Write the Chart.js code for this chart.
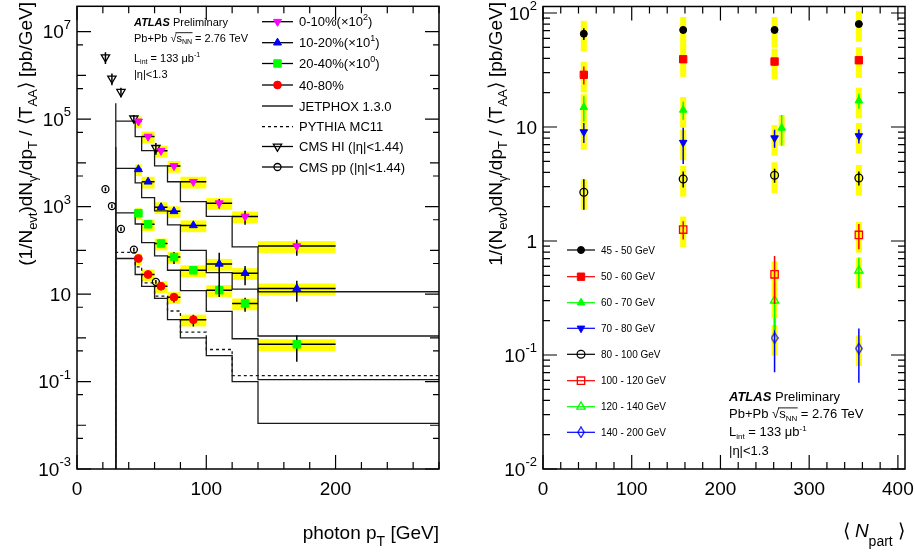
<!DOCTYPE html>
<html>
<head>
<meta charset="utf-8">
<script src="https://cdn.jsdelivr.net/npm/chart.js@4.4.1/dist/chart.umd.min.js"></script>
<style>
  body { margin: 0; background: #fff; }
  canvas { position: absolute; left: 0; top: 0; }
</style>
</head>
<body>
<canvas id="spectra" width="915" height="553"></canvas>
<canvas id="npart" width="915" height="553"></canvas>
<script>
// ---- left panel: photon pT spectra per centrality ----
const ptEdges = [45, 50, 60, 70, 80, 100, 120, 140, 200];
const ptCenters = [47.5, 55, 65, 75, 90, 110, 130, 170];
const spec0_10 = [8.9e4, 4.0e4, 1.9e4, 8.5e3, 3.7e3, 1.2e3, 595, 125];
const stat0_10 = [0.04, 0.04, 0.05, 0.06, 0.07, 0.25, 0.35, 0.4];
const spec10_20 = [7.1e3, 3.7e3, 966, 780, 372, 49, 30, 13.4];
const stat10_20 = [0.05, 0.05, 0.15, 0.1, 0.08, 0.8, 0.47, 0.5];
const spec20_40 = [707, 393, 143, 70, 35, 12.3, 6.1, 0.71];
const stat20_40 = [0.06, 0.06, 0.1, 0.3, 0.1, 0.3, 0.35, 0.6];
const spec40_80 = [65, 28, 15.1, 8.5, 2.6];
const stat40_80 = [0.08, 0.08, 0.12, 0.25, 0.3];
const sysSpec = 0.3;

const theoryEdges = [30, 45, 50, 60, 70, 80, 100, 120, 140, 200, 280];
const jetphox0_10 = [2.3e5, 9.0e4, 4.0e4, 1.9e4, 8.5e3, 3.7e3, 1.3e3, 600, 120, 11.3];
const jetphox10_20 = [2.3e4, 7.5e3, 3.5e3, 1.6e3, 800, 380, 100, 31, 13, 1.1];
const jetphox20_40 = [2.3e3, 720, 400, 150, 75, 35, 12, 4.0, 0.95, 0.11];
const jetphox40_80 = [228, 65, 28, 15, 8.0, 2.6, 1.0, 0.39, 0.10, 0.011];
const pythiaEdges = [30, 45, 50, 60, 70, 80, 100, 120, 140, 280];
const pythia = [318, 90, 42, 18, 9, 4.1, 1.35, 0.54, 0.136];

const cmsPt = [22, 27, 34, 44, 61];
const cmsHI = [2.6e6, 8.5e5, 4.2e5, 1.04e5, 2.2e4];
const cmsHIStat = [0.3, 0.3, 0.25, 0.2, 0.3];
const cmsPP = [2.5e3, 1.03e3, 308, 104, 19];
const cmsPPStat = [0.1, 0.1, 0.1, 0.1, 0.1];

// ---- right panel: yield vs Npart per pT bin ----
const npart = [46, 158, 261, 356];
const npartShifted = [46, 158, 269, 356];
const y45_50 = [65.7, 71, 71, 80];
const s45_50 = [0.12, 0.08, 0.07, 0.06];
const y50_60 = [28.7, 39.3, 37.5, 38.5];
const s50_60 = [0.18, 0.07, 0.08, 0.07];
const y60_70 = [14.9, 14.1, 9.8, 17];
const s60_70 = [0.25, 0.18, 0.3, 0.15];
const y70_80 = [9.05, 7.3, 8.0, 8.35];
const s70_80 = [0.2, 0.35, 0.18, 0.14];
const y80_100 = [2.68, 3.5, 3.77, 3.57];
const s80_100 = [0.3, 0.16, 0.14, 0.14];
const y100_120 = [null, 1.26, 0.51, 1.13];
const s100_120 = [null, 0.18, 0.45, 0.25];
const y120_140 = [null, null, 0.30, 0.55];
const s120_140 = [null, null, 0.45, 0.3];
const y140_200 = [null, null, 0.141, 0.114];
const s140_200 = [null, null, 0.5, 0.5];
const sysNpart = 0.3;

const FONT = '"Liberation Sans", Arial, Helvetica, sans-serif';
const MAGENTA = '#ff00ff', BLUE = '#0000ff', GREEN = '#00ff00', RED = '#ff0000', YELLOW = '#ffff00';

function diamondImage(color) {
  const c = document.createElement('canvas');
  c.width = 8; c.height = 12;
  const g = c.getContext('2d');
  g.strokeStyle = color; g.lineWidth = 1.2;
  g.beginPath();
  g.moveTo(4, 0.8); g.lineTo(7.2, 6); g.lineTo(4, 11.2); g.lineTo(0.8, 6); g.closePath();
  g.stroke();
  return c;
}

const mk = {
  c0_10: { pointStyle: 'triangle', rotation: 180, radius: 4.6, color: MAGENTA },
  c10_20: { pointStyle: 'triangle', rotation: 0, radius: 4.6, color: BLUE },
  c20_40: { pointStyle: 'rect', radius: 5.3, color: GREEN },
  c40_80: { pointStyle: 'circle', radius: 3.9, color: RED },
  cmsHI: { pointStyle: 'triangle', rotation: 180, radius: 4.8, color: '#000', open: true },
  cmsPP: { pointStyle: 'circle', radius: 3.5, color: '#000', open: true },
  n45: { pointStyle: 'circle', radius: 3.5, color: '#000' },
  n50: { pointStyle: 'rect', radius: 5.2, color: RED },
  n60: { pointStyle: 'triangle', rotation: 0, radius: 4.4, color: GREEN },
  n70: { pointStyle: 'triangle', rotation: 180, radius: 4.4, color: BLUE },
  n80: { pointStyle: 'circle', radius: 3.9, color: '#000', open: true },
  n100: { pointStyle: 'rect', radius: 5.2, color: RED, open: true },
  n120: { pointStyle: 'triangle', rotation: 0, radius: 4.8, color: GREEN, open: true },
  n140: { pointStyle: diamondImage(BLUE), radius: 4, color: BLUE, open: true }
};

function points(xs, ys, stat, lo, hi) {
  const out = [];
  ys.forEach((y, i) => {
    if (y == null) return;
    out.push({ x: xs[i], y, stat: stat[i], lo: lo ? lo[i] : null, hi: hi ? hi[i] : null });
  });
  return out;
}

function markers(label, data, st, err) {
  return {
    label, data, type: 'scatter', order: 0,
    pointStyle: st.pointStyle, pointRotation: st.rotation || 0, pointRadius: st.radius,
    backgroundColor: st.open ? 'rgba(0,0,0,0)' : st.color,
    borderColor: st.color, borderWidth: st.open ? 1.3 : 1,
    errColor: err.color, sys: err.sys, boxHalf: err.boxHalf
  };
}

function stepData(edges, vals) {
  const pts = [{ x: edges[0], y: 1e-3 }];
  vals.forEach((v, i) => pts.push({ x: edges[i], y: v }));
  pts.push({ x: edges[edges.length - 1], y: vals[vals.length - 1] });
  return pts;
}

function histo(label, edges, vals, dash) {
  return {
    label, type: 'line', order: 5, data: stepData(edges, vals), stepped: 'after',
    borderColor: '#1a1a1a', borderWidth: 1.3, borderDash: dash ? [3, 3] : [],
    pointRadius: 0, fill: false
  };
}

function clipTo(ctx, a) {
  ctx.beginPath();
  ctx.rect(a.left, a.top, a.right - a.left, a.bottom - a.top);
  ctx.clip();
}

function rich(ctx, parts, x, y, align) {
  const fonts = parts.map(p => (p[3] || '') + ' ' + p[1] + 'px ' + FONT);
  const widths = parts.map((p, i) => { ctx.font = fonts[i]; return ctx.measureText(p[0]).width; });
  const total = widths.reduce((s, w) => s + w, 0);
  let cx = align === 'right' ? x - total : align === 'center' ? x - total / 2 : x;
  const spans = [];
  ctx.textAlign = 'left';
  ctx.textBaseline = 'alphabetic';
  parts.forEach((p, i) => {
    ctx.font = fonts[i];
    ctx.fillText(p[0], cx, y + (p[2] || 0));
    spans.push([cx, cx + widths[i]]);
    cx += widths[i];
  });
  return spans;
}

function drawMarker(ctx, st, x, y) {
  ctx.save();
  ctx.fillStyle = st.open ? 'rgba(0,0,0,0)' : st.color;
  ctx.strokeStyle = st.color;
  ctx.lineWidth = st.open ? 1.3 : 1;
  const h = Chart.helpers;
  if (h && h.drawPoint) {
    h.drawPoint(ctx, { pointStyle: st.pointStyle, rotation: st.rotation || 0, radius: st.radius, borderWidth: ctx.lineWidth }, x, y);
  } else {
    ctx.beginPath(); ctx.arc(x, y, st.radius, 0, Math.PI * 2); ctx.fill(); ctx.stroke();
  }
  ctx.restore();
}

const errorBars = {
  id: 'errorBars',
  beforeDatasetsDraw(chart) {
    const { ctx, chartArea: a } = chart;
    const xs = chart.scales.x, ys = chart.scales.y;
    ctx.save();
    clipTo(ctx, a);
    ctx.fillStyle = YELLOW;
    chart.data.datasets.forEach(ds => {
      if (!ds.sys) return;
      ds.data.forEach(p => {
        const x0 = xs.getPixelForValue(p.lo != null ? p.lo : p.x - ds.boxHalf);
        const x1 = xs.getPixelForValue(p.hi != null ? p.hi : p.x + ds.boxHalf);
        const y0 = ys.getPixelForValue(p.y * (1 + ds.sys));
        const y1 = ys.getPixelForValue(p.y * (1 - ds.sys));
        ctx.fillRect(x0, y0, x1 - x0, y1 - y0);
      });
    });
    ctx.restore();
  },
  beforeDatasetDraw(chart, args) {
    const ds = chart.data.datasets[args.index];
    if (!ds.errColor) return;
    const { ctx, chartArea: a } = chart;
    const xs = chart.scales.x, ys = chart.scales.y;
    ctx.save();
    clipTo(ctx, a);
    ctx.strokeStyle = ds.errColor;
    ctx.lineWidth = 1.5;
    ds.data.forEach(p => {
      const px = xs.getPixelForValue(p.x), py = ys.getPixelForValue(p.y);
      ctx.beginPath();
      ctx.moveTo(px, ys.getPixelForValue(p.y * (1 + p.stat)));
      ctx.lineTo(px, ys.getPixelForValue(p.y * (1 - p.stat)));
      if (p.lo != null) {
        ctx.moveTo(xs.getPixelForValue(p.lo), py);
        ctx.lineTo(xs.getPixelForValue(p.hi), py);
      }
      ctx.stroke();
    });
    ctx.restore();
  }
};

function drawFrame(chart, xTicks, yTicks) {
  const { ctx, chartArea: a } = chart;
  const xs = chart.scales.x, ys = chart.scales.y;
  ctx.save();
  ctx.strokeStyle = '#000';
  ctx.lineWidth = 1.2;
  ctx.beginPath();
  xTicks.forEach(t => {
    const px = xs.getPixelForValue(t.v);
    ctx.moveTo(px, a.bottom); ctx.lineTo(px, a.bottom - t.len);
    ctx.moveTo(px, a.top); ctx.lineTo(px, a.top + t.len);
  });
  yTicks.forEach(t => {
    const py = ys.getPixelForValue(t.v);
    ctx.moveTo(a.left, py); ctx.lineTo(a.left + t.len, py);
    ctx.moveTo(a.right, py); ctx.lineTo(a.right - t.len, py);
  });
  ctx.stroke();
  ctx.lineWidth = 1.5;
  ctx.strokeRect(a.left, a.top, a.right - a.left, a.bottom - a.top);
  ctx.restore();
}

function powLabel(ctx, e, xr, y) {
  let parts;
  if (e === 0) parts = [['1', 19]];
  else if (e === 1) parts = [['10', 19]];
  else parts = [['10', 19], [String(e), 13, -9.5]];
  rich(ctx, parts, xr, y + 6.8, 'right');
}

function rotatedTitle(ctx, parts, xBase, yEnd) {
  ctx.save();
  ctx.translate(xBase, yEnd);
  ctx.rotate(-Math.PI / 2);
  rich(ctx, parts, 0, 0, 'right');
  ctx.restore();
}

function sqrtLine(ctx, x, y, size, subSize) {
  const spans = rich(ctx, [['Pb+Pb ', size], ['\u221a', size], ['s', size], ['NN', subSize, size * 0.22], [' = 2.76 TeV', size]], x, y, 'left');
  ctx.save();
  ctx.strokeStyle = '#000';
  ctx.lineWidth = 0.9;
  ctx.beginPath();
  ctx.moveTo(spans[1][1] - 1, y - size * 0.8);
  ctx.lineTo(spans[3][1] + 0.5, y - size * 0.8);
  ctx.stroke();
  ctx.restore();
}

function atlasBlock(ctx, x, baselines, size) {
  const sub = Math.round(size * 0.65);
  ctx.fillStyle = '#000';
  rich(ctx, [['ATLAS', size, 0, 'bold italic'], [' Preliminary', size]], x, baselines[0], 'left');
  sqrtLine(ctx, x, baselines[1], size, sub);
  rich(ctx, [['L', size], ['int', sub, size * 0.22], [' = 133 \u03bcb', size], ['-1', sub, -size * 0.4]], x, baselines[2], 'left');
  rich(ctx, [['|\u03b7|<1.3', size]], x, baselines[3], 'left');
}

// ---- left decorations ----
const spectraLegend = [
  { text: [['0-10%(\u00d710', 13], ['2', 9, -6], [')', 13]], st: mk.c0_10 },
  { text: [['10-20%(\u00d710', 13], ['1', 9, -6], [')', 13]], st: mk.c10_20 },
  { text: [['20-40%(\u00d710', 13], ['0', 9, -6], [')', 13]], st: mk.c20_40 },
  { text: [['40-80%', 13]], st: mk.c40_80 },
  { text: [['JETPHOX 1.3.0', 13]], st: null },
  { text: [['PYTHIA MC11', 13]], st: null, dash: true },
  { text: [['CMS HI (|\u03b7|<1.44)', 13]], st: mk.cmsHI },
  { text: [['CMS pp (|\u03b7|<1.44)', 13]], st: mk.cmsPP }
];
const spectraLegendY = [21.7, 42.7, 63.5, 85, 106, 126.7, 146.5, 167];

const spectraDecor = {
  id: 'spectraDecor',
  afterDraw(chart) {
    const ctx = chart.ctx;
    const xt = [], yt = [];
    for (let v = 0; v <= 280; v += 20) xt.push({ v, len: v % 100 === 0 ? 14 : 7 });
    for (let e = -3; e <= 7; e++) {
      yt.push({ v: Math.pow(10, e), len: Math.abs(e) % 2 === 1 ? 14 : 9 });
      if (e < 7) yt.push({ v: 5 * Math.pow(10, e), len: 6 });
    }
    drawFrame(chart, xt, yt);
    const xs = chart.scales.x, ys = chart.scales.y;
    ctx.save();
    ctx.fillStyle = '#000';
    ctx.font = '19px ' + FONT;
    ctx.textAlign = 'center'; ctx.textBaseline = 'middle';
    [0, 100, 200].forEach(v => ctx.fillText(String(v), xs.getPixelForValue(v), 490));
    [7, 5, 3, 1, -1, -3].forEach(e => powLabel(ctx, e, 71, ys.getPixelForValue(Math.pow(10, e))));
    rich(ctx, [['photon p', 19], ['T', 14, 7], [' [GeV]', 19]], 439, 539, 'right');
    rotatedTitle(ctx, [['(1/N', 19], ['evt', 13, 5], [')dN', 19], ['\u03b3', 13, 5], ['/dp', 19], ['T', 13, 5],
      [' / \u27e8T', 19], ['AA', 13, 5], ['\u27e9 [pb/GeV]', 19]], 31.7, 2);
    atlasBlock(ctx, 134, [26, 41.5, 61.5, 78], 11);
    spectraLegend.forEach((item, i) => {
      const y = spectraLegendY[i];
      ctx.save();
      ctx.strokeStyle = '#000'; ctx.lineWidth = 1.3;
      ctx.setLineDash(item.dash ? [3, 3] : []);
      ctx.beginPath(); ctx.moveTo(262, y); ctx.lineTo(293, y); ctx.stroke();
      ctx.restore();
      if (item.st) drawMarker(ctx, item.st, 277.5, y);
      ctx.fillStyle = '#000';
      rich(ctx, item.text, 299, y + 4.7, 'left');
    });
    ctx.restore();
  }
};

const binLo = ptEdges.slice(0, -1), binHi = ptEdges.slice(1);
const specErr = { color: '#000', sys: sysSpec };

new Chart(document.getElementById('spectra'), {
  type: 'scatter',
  data: {
    datasets: [
      markers('0-10%', points(ptCenters, spec0_10, stat0_10, binLo, binHi), mk.c0_10, specErr),
      markers('10-20%', points(ptCenters, spec10_20, stat10_20, binLo, binHi), mk.c10_20, specErr),
      markers('20-40%', points(ptCenters, spec20_40, stat20_40, binLo, binHi), mk.c20_40, specErr),
      markers('40-80%', points(ptCenters, spec40_80, stat40_80, binLo, binHi), mk.c40_80, specErr),
      markers('CMS HI', points(cmsPt, cmsHI, cmsHIStat), mk.cmsHI, { color: '#000' }),
      markers('CMS pp', points(cmsPt, cmsPP, cmsPPStat), mk.cmsPP, { color: '#000' }),
      histo('JETPHOX 0-10%', theoryEdges, jetphox0_10),
      histo('JETPHOX 10-20%', theoryEdges, jetphox10_20),
      histo('JETPHOX 20-40%', theoryEdges, jetphox20_40),
      histo('JETPHOX 40-80%', theoryEdges, jetphox40_80),
      histo('PYTHIA MC11', pythiaEdges, pythia, true)
    ]
  },
  options: {
    responsive: false, animation: false, events: [],
    layout: { padding: { left: 77, right: 476, top: 1, bottom: 84 } },
    scales: {
      x: { type: 'linear', min: 0, max: 280, display: false },
      y: { type: 'logarithmic', min: 1e-3, max: 3.8e7, display: false }
    },
    plugins: { legend: { display: false }, tooltip: { enabled: false } }
  },
  plugins: [errorBars, spectraDecor]
});

// ---- right decorations ----
const npartLegend = [
  ['45 - 50 GeV', mk.n45, '#000'], ['50 - 60 GeV', mk.n50, RED], ['60 - 70 GeV', mk.n60, GREEN],
  ['70 - 80 GeV', mk.n70, BLUE], ['80 - 100 GeV', mk.n80, '#000'], ['100 - 120 GeV', mk.n100, RED],
  ['120 - 140 GeV', mk.n120, GREEN], ['140 - 200 GeV', mk.n140, BLUE]
];
const npartLegendY = [250, 276.7, 302.7, 328.3, 354.3, 380.7, 406.7, 432.3];

const npartDecor = {
  id: 'npartDecor',
  afterDraw(chart) {
    const ctx = chart.ctx;
    const xt = [], yt = [];
    for (let v = 0; v <= 400; v += 20) xt.push({ v, len: v % 100 === 0 ? 14 : 7 });
    for (let e = -2; e <= 2; e++) {
      yt.push({ v: Math.pow(10, e), len: 14 });
      if (e < 2) for (let m = 2; m <= 9; m++) yt.push({ v: m * Math.pow(10, e), len: 7 });
    }
    drawFrame(chart, xt, yt);
    const xs = chart.scales.x, ys = chart.scales.y;
    ctx.save();
    ctx.fillStyle = '#000';
    ctx.font = '19px ' + FONT;
    ctx.textAlign = 'center'; ctx.textBaseline = 'middle';
    [0, 100, 200, 300, 400].forEach(v => ctx.fillText(String(v), xs.getPixelForValue(v), 490));
    [2, 1, 0, -1, -2].forEach(e => powLabel(ctx, e, 537, ys.getPixelForValue(Math.pow(10, e))));
    rich(ctx, [['\u27e8 ', 19], ['N', 19, 0, 'italic'], ['part', 14, 9], [' \u27e9', 19]], 905, 537, 'right');
    rotatedTitle(ctx, [['1/(N', 19], ['evt', 13, 5], [')dN', 19], ['\u03b3', 13, 5], ['/dp', 19], ['T', 13, 5],
      [' / \u27e8T', 19], ['AA', 13, 5], ['\u27e9 [pb/GeV]', 19]], 501.7, 2);
    atlasBlock(ctx, 729, [400.7, 418.3, 436, 455], 13);
    npartLegend.forEach((item, i) => {
      const y = npartLegendY[i];
      ctx.save();
      ctx.strokeStyle = item[2]; ctx.lineWidth = 1.2;
      ctx.beginPath(); ctx.moveTo(567, y); ctx.lineTo(595, y); ctx.stroke();
      ctx.restore();
      drawMarker(ctx, item[1], 581, y);
      ctx.fillStyle = '#000';
      rich(ctx, [[item[0], 10]], 601, y + 3.6, 'left');
    });
    ctx.restore();
  }
};

const boxHalf = 3.4;
new Chart(document.getElementById('npart'), {
  type: 'scatter',
  data: {
    datasets: [
      markers('45 - 50 GeV', points(npart, y45_50, s45_50), mk.n45, { color: '#000', sys: sysNpart, boxHalf }),
      markers('50 - 60 GeV', points(npart, y50_60, s50_60), mk.n50, { color: RED, sys: sysNpart, boxHalf }),
      markers('60 - 70 GeV', points(npartShifted, y60_70, s60_70), mk.n60, { color: GREEN, sys: sysNpart, boxHalf }),
      markers('70 - 80 GeV', points(npart, y70_80, s70_80), mk.n70, { color: BLUE, sys: sysNpart, boxHalf }),
      markers('80 - 100 GeV', points(npart, y80_100, s80_100), mk.n80, { color: '#000', sys: sysNpart, boxHalf }),
      markers('100 - 120 GeV', points(npart, y100_120, s100_120), mk.n100, { color: RED, sys: sysNpart, boxHalf }),
      markers('120 - 140 GeV', points(npart, y120_140, s120_140), mk.n120, { color: GREEN, sys: sysNpart, boxHalf }),
      markers('140 - 200 GeV', points(npart, y140_200, s140_200), mk.n140, { color: BLUE, sys: sysNpart, boxHalf })
    ]
  },
  options: {
    responsive: false, animation: false, events: [],
    layout: { padding: { left: 543, right: 10, top: 1, bottom: 84 } },
    scales: {
      x: { type: 'linear', min: 0, max: 408, display: false },
      y: { type: 'logarithmic', min: 1e-2, max: 114, display: false }
    },
    plugins: { legend: { display: false }, tooltip: { enabled: false } }
  },
  plugins: [errorBars, npartDecor]
});
</script>
</body>
</html>
